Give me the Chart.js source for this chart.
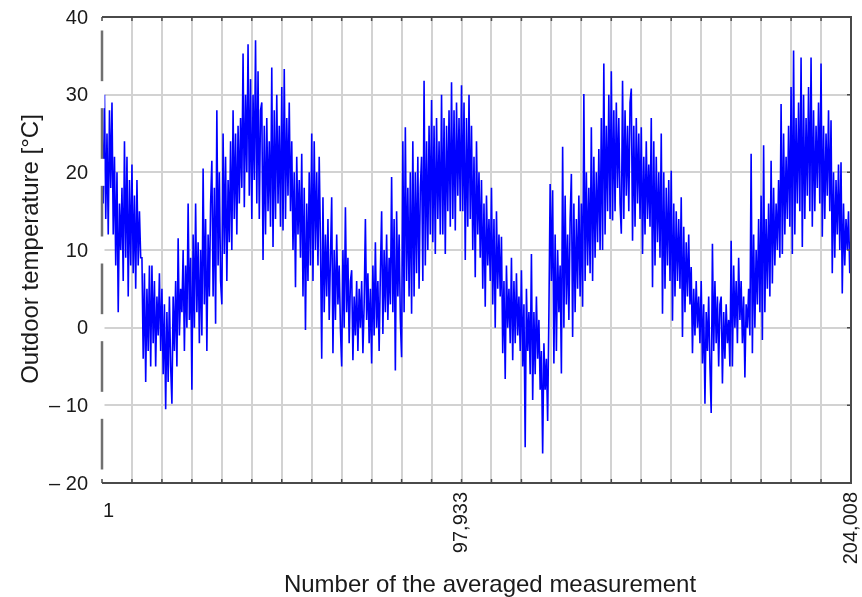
<!DOCTYPE html>
<html>
<head>
<meta charset="utf-8">
<script src="https://cdn.jsdelivr.net/npm/chart.js@4/dist/chart.umd.min.js"></script>
<style>
  body { margin: 0; background: #fff; }
  #wrap { width: 862px; height: 597px; }
</style>
</head>
<body>
<div id="wrap"><canvas id="tempChart" width="862" height="597"></canvas></div>
<script>
// outdoor temperature left to right (8 readings per ~10 px)
const tempValues = [
  26, 16, 30, 14, 25, 12, 28, 18,   29, 12, 22, 8, 20, 2, 16, 10,
  18, 6, 24, 9, 22, 4, 19, 8,       21, 7, 17, 5, 19, 8, 15, 9,
  9, -4, 7, -7, 5, -3, 8, -5,       8, -2, 6, -5, 4, -1, 7, -3,
  5, -6, 3, -10.5, 2, -7, 4, -5,    -9.8, 4, -3, 6, -5, 11.5, -1, 5,
  2, 10, -3, 8, 0, 16, 1, 9,        -8, 12, 0, 16, 2, 11, -2, 10,
  -1, 20.5, 3, 14, -3, 12, 4, 16,   21.5, 4, 18, 0.5, 28, 8, 20, 6,
  3, 25, 9.5, 22, 6, 19, 11, 24,    10, 28, 14, 25, 12, 26, 16, 27,
  18, 35.3, 15.5, 30, 20, 36.5, 17, 32,  14, 30, 19, 37, 16, 33, 14, 28,
  29, 8.7, 26, 12, 27, 15, 24, 13,  33.5, 10.4, 28, 14, 30, 16, 26, 13,
  31, 12.5, 33.3, 14, 27, 17, 29, 15,  24, 10, 20, 5.2, 22, 12, 19, 9,
  22.4, 4, 18, -0.3, 16, 6, 20, 8,  25, 6, 24, 10, 20, 8, 22, 11,
  -4, 16.8, 2, 12, 4, 14, 1, 9,     16.8, -3.3, 10, 1, 12, 3, 8, 0,
  -5, 10, 0, 15.5, 2, 9, -2, 6,     7.4, -4.2, 4, -1, 6, -3, 5, 0,
  6, -3.3, 3, 14, 1, 7, -2, 5,      -4.6, 8, -1, 11, 0, 6, -3, 7,
  15, -0.8, 10, 2, 12, 1, 9, 3,     19.4, 2, 14, -5.5, 15, 4, 12, 1,
  -3.8, 24, 2, 25.8, 6, 18, 4, 20,  1.8, 24, 4, 20, 7, 22, 5, 18,
  22, 6, 31.8, 8, 24, 10, 26, 12,   29.3, 11, 26, 9.5, 27, 14, 24, 12,
  30, 12, 27, 9.5, 26, 15, 28, 13,  31.6, 14, 28, 12.5, 29, 17, 27, 15,
  31.2, 15, 29, 8.7, 27, 13, 30, 14,  26, 10, 22, 6.5, 24, 12, 20, 9,
  19, 5, 16, 2.7, 17, 8, 14, 6,     18, 3, 14, 0, 15, 5, 12, 4,
  11.7, -3.3, 6, -6.6, 8, 0, 5, -2, 9, -4.2, 6, -2, 7, -1, 4, -3,
  7.4, -5, 3, -15.4, 5, -3, 2, -6,  9.5, -9.3, 2, -6, 4, -4, 1, -8,
  -3, -16.2, -2, -8, -4, -12, 2, 18.5,  6, 17.7, -4.6, 12, -3, 10, 2, 8,
  -5.9, 23.3, 0, 17, 3, 12, 1, 14,  19.8, -1.2, 16, 2, 14, 5, 17, 4,
  16, 2.7, 30.1, 6, 20, 8, 18, 7,   25.8, 6, 22, 9, 20, 11, 23, 10,
  27, 10, 34, 12, 26, 15, 30, 14,   33, 13.8, 28, 15, 29, 18, 27, 16,
  12.1, 31.8, 14, 28, 17, 26, 15, 29,  30.8, 11.2, 26, 13, 27, 16, 25, 14,
  25.8, 9.5, 22, 12, 24, 14, 21, 13,  27, 5.2, 24, 8, 22, 11, 20, 9,
  25, 1.8, 20, 5, 18, 8, 19, 6,     20.2, 0.9, 16, 4, 15, 6, 14, 5,
  16.8, -1.2, 13, 2, 11, 4, 12, 3,  7.8, -3.3, 5, -1, 6, 0, 4, -2,
  6, -4.6, 3, -9.8, 2, -3, 4, -5,   -11, 10.8, -3, 6, -2, 4, -5, 3,
  4, -7.2, 2, -4, 3, -2, 1, -5,     11.2, -5, 8, 0, 6, -2, 9, 1,
  6, -2, 4, -6.4, 3, 0, 5, -1,      22.4, -3.3, 12, 0, 10, 3, 14, 2,
  17, -1.6, 23.5, 2, 14, 5, 16, 4,  21.5, 5.7, 18, 8, 16, 10, 19, 9,
  28.8, 9.5, 25, 12, 22, 14, 26, 13,  31, 9.5, 35.7, 12, 27, 16, 29, 15,
  34.8, 10.4, 30, 14, 27, 17, 31, 15,  34.8, 13, 28, 15, 26, 18, 29, 16,
  34, 11.7, 26, 14, 25, 17, 28, 15,  26.7, 7, 20, 9, 19, 12, 21, 10,
  21.3, 4.4, 16, 8, 14, 10, 15, 7, 12
];

const firstMeasurement = 1;
const lastMeasurement = 204008;
const xGridDivisions = 25;

const xTickValues = [1, 97933, 204008];
const xTickLabels = ['1', '97,933', '204,008'];
const yTickValues = [40, 30, 20, 10, 0, -10, -20];
const yTickLabels = ['40', '30', '20', '10', '0', '– 10', '– 20'];

const xTitle = 'Number of the averaged measurement';
const yTitle = 'Outdoor temperature [°C]';

const FONT = '"Liberation Sans", Arial, sans-serif';
const TEXT = '#1a1a1a';

// samples are spread evenly over the measurement range
const step = (lastMeasurement - firstMeasurement) / (tempValues.length - 1);
const points = tempValues.map((v, i) => ({ x: firstMeasurement + i * step, y: v }));

/*===== frame, tick labels and titles =====*/
const framePlugin = {
  id: 'frame',
  afterDraw(chart) {
    const ctx = chart.ctx;
    const a = chart.chartArea;
    const xs = chart.scales.x, ys = chart.scales.y;
    ctx.save();

    // left axis, grey
    ctx.strokeStyle = '#707070';
    ctx.lineWidth = 2.5;
    ctx.beginPath();
    ctx.moveTo(a.left, a.top);
    ctx.lineTo(a.left, a.bottom);
    ctx.stroke();

    // white boxes behind the y labels
    ctx.fillStyle = '#fff';
    yTickValues.forEach(v => {
      const y = ys.getPixelForValue(v);
      ctx.fillRect(40, y - 13.5, a.left + 2.5 - 40, 27);
    });

    // top, right, bottom
    ctx.strokeStyle = '#4a4a4a';
    ctx.lineWidth = 2;
    ctx.beginPath();
    ctx.moveTo(a.left, a.top);
    ctx.lineTo(a.right, a.top);
    ctx.lineTo(a.right, a.bottom);
    ctx.lineTo(a.left, a.bottom);
    ctx.stroke();

    // small tick marks
    ctx.lineWidth = 1.5;
    ctx.beginPath();
    xs.ticks.forEach(t => {
      const x = xs.getPixelForValue(t.value);
      ctx.moveTo(x, a.top); ctx.lineTo(x, a.top + 4);
      ctx.moveTo(x, a.bottom); ctx.lineTo(x, a.bottom - 4);
    });
    yTickValues.forEach(v => {
      const y = ys.getPixelForValue(v);
      ctx.moveTo(a.right, y); ctx.lineTo(a.right - 4, y);
    });
    ctx.stroke();

    // y tick labels
    ctx.fillStyle = TEXT;
    ctx.font = '20px ' + FONT;
    ctx.textAlign = 'right';
    ctx.textBaseline = 'middle';
    yTickValues.forEach((v, i) => {
      ctx.fillText(yTickLabels[i], 88, ys.getPixelForValue(v) + 1);
    });

    // x tick labels: first one flat, the others turned
    xTickValues.forEach((v, i) => {
      const x = xs.getPixelForValue(v);
      ctx.save();
      if (i === 0) {
        ctx.textAlign = 'left';
        ctx.textBaseline = 'top';
        ctx.fillText(xTickLabels[i], x + 1, a.bottom + 18);
      } else {
        ctx.translate(x, a.bottom + 9);
        ctx.rotate(-Math.PI / 2);
        ctx.textAlign = 'right';
        ctx.textBaseline = 'middle';
        ctx.fillText(xTickLabels[i], 0, 0);
      }
      ctx.restore();
    });

    // axis titles
    ctx.font = '24px ' + FONT;
    ctx.textAlign = 'center';
    ctx.textBaseline = 'alphabetic';
    ctx.fillText(xTitle, 490, 592);
    ctx.save();
    ctx.translate(38, 249);
    ctx.rotate(-Math.PI / 2);
    ctx.fillText(yTitle, 0, 0);
    ctx.restore();

    ctx.restore();
  }
};

const tempChart = new Chart(document.getElementById('tempChart'), {
  type: 'line',
  data: {
    datasets: [{
      data: points,
      borderColor: '#0000ff',
      borderWidth: 1.6,
      pointRadius: 0,
      tension: 0,
      fill: false
    }]
  },
  options: {
    responsive: false,
    animation: false,
    layout: { padding: { left: 102, right: 11, top: 17, bottom: 114 } },
    plugins: { legend: { display: false }, tooltip: { enabled: false } },
    scales: {
      x: {
        type: 'linear',
        min: firstMeasurement,
        max: lastMeasurement,
        afterBuildTicks: scale => {
          const ticks = [];
          for (let k = 0; k <= xGridDivisions; k++) {
            ticks.push({ value: firstMeasurement + k * (lastMeasurement - firstMeasurement) / xGridDivisions });
          }
          scale.ticks = ticks;
        },
        ticks: { display: false },
        grid: { color: '#d2d2d2', lineWidth: 2, drawTicks: false },
        border: { display: false }
      },
      y: {
        min: -20,
        max: 40,
        ticks: { display: false, stepSize: 10 },
        grid: { color: '#d2d2d2', lineWidth: 2, drawTicks: false },
        border: { display: false }
      }
    }
  },
  plugins: [framePlugin]
});
</script>
</body>
</html>
